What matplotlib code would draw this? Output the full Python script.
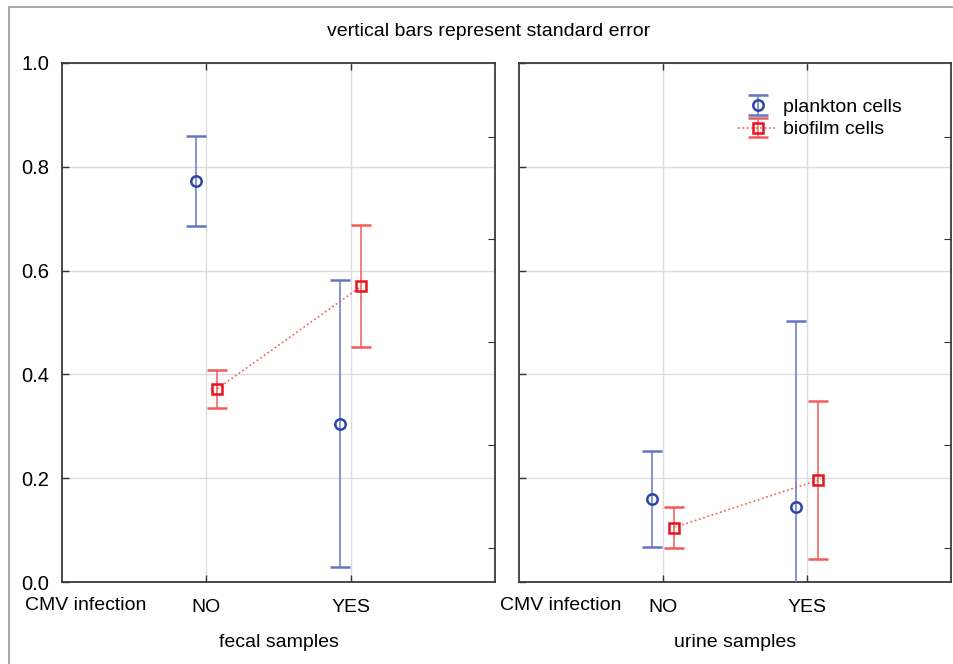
import matplotlib.pyplot as plt
from matplotlib.patches import Rectangle
import numpy as np

plt.rcParams['font.family'] = ['Liberation Sans', 'DejaVu Sans']

# data
groups = ['NO', 'YES']
panels = ['fecal samples', 'urine samples']
plankton_mean = [[0.772, 0.305], [0.160, 0.145]]
plankton_se = [[0.087, 0.277], [0.093, 0.358]]
biofilm_mean = [[0.372, 0.570], [0.105, 0.196]]
biofilm_se = [[0.037, 0.117], [0.040, 0.152]]
yticks = [0.0, 0.2, 0.4, 0.6, 0.8, 1.0]
right_ticks = [0.066, 0.264, 0.462, 0.660, 0.858]

blue_line = '#6475c6'
blue_mark = '#2f45a5'
red_line = '#f25a5a'
red_mark = '#e8121c'

fig = plt.figure(figsize=(9.54, 6.64), dpi=100)
fig.patches.append(Rectangle((9 / 954, -0.1), 1.2, 1.1 - 7 / 664, transform=fig.transFigure,
                             fill=False, edgecolor='#9a9a9a', linewidth=1.2))

lefts = [62 / 954, 519 / 954]
widths = [433 / 954, 432 / 954]
x = np.arange(1, len(groups) + 1)
off = 0.075

for i in range(2):
    ax = fig.add_axes([lefts[i], 82 / 664, widths[i], 519 / 664])
    ax.errorbar(x - off, plankton_mean[i], yerr=plankton_se[i], fmt='o', color=blue_line,
                mec=blue_mark, mfc='none', ms=7.5, mew=1.8, elinewidth=1.1, capsize=7,
                capthick=1.1, label='plankton cells', zorder=3)
    ax.errorbar(x + off, biofilm_mean[i], yerr=biofilm_se[i], fmt='s', ls=':', color=red_line,
                mec=red_mark, mfc='none', ms=7.5, mew=1.8, elinewidth=1.1, capsize=7,
                capthick=1.1, lw=1.2, label='biofilm cells', zorder=3)
    ax.set_xlim(0, 3)
    ax.set_ylim(0, 1)
    ax.set_xticks(x)
    ax.set_xticklabels(groups, fontsize=14)
    ax.set_yticks(yticks)
    if i == 0:
        ax.set_yticklabels(['%.1f' % v for v in yticks], fontsize=14.5)
    else:
        ax.set_yticklabels([])
    ax.grid(True, color='#dcdcdc', lw=1)
    ax.set_axisbelow(True)
    ax.tick_params(direction='in', length=5, top=True, width=1, color='#333333', pad=9)
    ax.tick_params(axis='x', pad=12)
    for s in ax.spines.values():
        s.set_color('#3a3a3a')
        s.set_linewidth(1.3)
    sec = ax.secondary_yaxis('right')
    sec.set_yticks(right_ticks)
    sec.set_yticklabels([])
    sec.tick_params(direction='in', length=5, color='#333333')
    sec.spines['right'].set_visible(False)
    ax.set_xlabel(panels[i], fontsize=14, labelpad=13)
    if i == 1:
        ax.legend(loc='upper left', bbox_to_anchor=(0.49, 0.947), frameon=False, fontsize=14,
                  handlelength=2.0, handletextpad=0.3, labelspacing=0.25, borderaxespad=0)

fig.text(86 / 954, 1 - 605 / 664, 'CMV infection', fontsize=14, ha='center', va='center')
fig.text(561 / 954, 1 - 605 / 664, 'CMV infection', fontsize=14, ha='center', va='center')
fig.text(489 / 954, 1 - 32 / 664, 'vertical bars represent standard error', fontsize=14,
         ha='center', va='center')

plt.savefig('out.png', dpi=100)
